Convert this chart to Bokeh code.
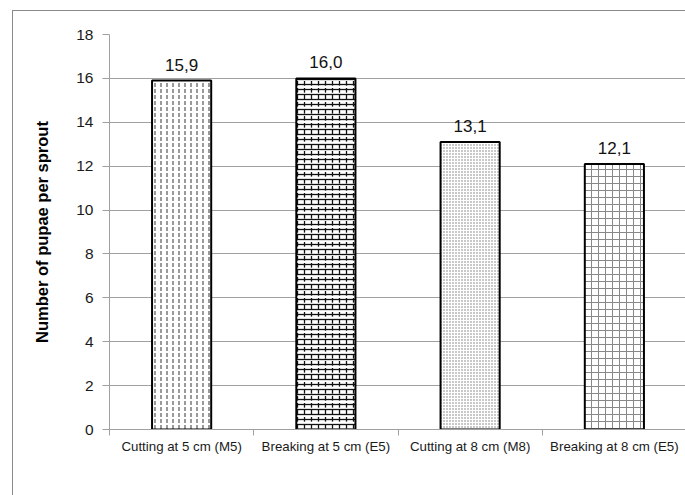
from bokeh.plotting import figure
from bokeh.models import Range1d, FixedTicker, ColumnDataSource
from bokeh.core.properties import value
from bokeh.embed import file_html
from bokeh.resources import INLINE

# Treatments and mean pupae counts per sprout
categories = ["Cutting at 5 cm (M5)", "Breaking at 5 cm (E5)",
              "Cutting at 8 cm (M8)", "Breaking at 8 cm (E5)"]
pupae = [15.9, 16.0, 13.1, 12.1]
y_ticks = [0, 2, 4, 6, 8, 10, 12, 14, 16, 18]

FONT = "Liberation Sans"
GRID = "#a0a0a0"

xs = [i + 0.5 for i in range(len(categories))]
labels = [f"{v:.1f}".replace(".", ",") for v in pupae]

p = figure(width=673, height=485, output_backend="svg", toolbar_location=None,
           x_range=Range1d(0, len(categories)), y_range=Range1d(0, 18),
           min_border_left=96, min_border_right=0, min_border_top=23,
           min_border_bottom=67)
p.styles = {"margin-left": "12px", "margin-top": "10px",
            "border-left": "1.5px solid #8a8a8a",
            "border-top": "1.5px solid #8a8a8a"}
p.outline_line_color = None
p.background_fill_color = "white"
p.border_fill_color = "white"

# Grid
p.xgrid.grid_line_color = None
p.ygrid.ticker = FixedTicker(ticks=y_ticks)
p.ygrid.grid_line_color = GRID
p.ygrid.grid_line_width = 1

# Y axis
p.yaxis.ticker = FixedTicker(ticks=y_ticks, minor_ticks=[])
p.yaxis.axis_line_color = GRID
p.yaxis.major_tick_line_color = GRID
p.yaxis.major_tick_out = 7
p.yaxis.major_tick_in = 0
p.yaxis.minor_tick_line_color = None
p.yaxis.major_label_text_font = FONT
p.yaxis.major_label_text_font_size = "15.5px"
p.yaxis.major_label_text_color = "#1a1a1a"
p.yaxis.major_label_standoff = 9
p.yaxis.axis_label = "Number of pupae per sprout"
p.yaxis.axis_label_text_font = FONT
p.yaxis.axis_label_text_font_style = "bold"
p.yaxis.axis_label_text_font_size = "16.5px"
p.yaxis.axis_label_text_color = "#000000"
p.yaxis.axis_label_standoff = 22

# X axis: labels at category centres, ticks at category boundaries
p.xaxis.ticker = FixedTicker(ticks=xs, minor_ticks=list(range(len(categories) + 1)))
p.xaxis.major_label_overrides = {x: c for x, c in zip(xs, categories)}
p.xaxis.axis_line_color = GRID
p.xaxis.major_tick_line_color = None
p.xaxis.minor_tick_line_color = GRID
p.xaxis.minor_tick_out = 6
p.xaxis.minor_tick_in = 0
p.xaxis.major_label_text_font = FONT
p.xaxis.major_label_text_font_size = "13.3px"
p.xaxis.major_label_text_color = "#1a1a1a"
p.xaxis.major_label_standoff = 3

# Bars, each with its own fill pattern
bar_w = 0.41
hatches = [
    [dict(hatch_pattern="vertical_dash", hatch_scale=6, hatch_weight=1.2, hatch_color="#555555")],
    [dict(hatch_pattern="horizontal_line", hatch_scale=5, hatch_weight=1.3, hatch_color="#111111"),
     dict(hatch_pattern="vertical_dash", hatch_scale=7, hatch_weight=1.3, hatch_color="#111111")],
    [dict(hatch_pattern="dot", hatch_scale=3, hatch_weight=1, hatch_color="#777777")],
    [dict(hatch_pattern="cross", hatch_scale=7, hatch_weight=1, hatch_color="#888888")],
]
for i, (x, v) in enumerate(zip(xs, pupae)):
    src = ColumnDataSource(dict(x=[x], top=[v]))
    p.vbar(x="x", top="top", width=bar_w, source=src, fill_color="white",
           line_color=None)
    for h in hatches[i]:
        p.vbar(x="x", top="top", width=bar_w, source=src, fill_alpha=0,
               line_color=None, **h)
    p.vbar(x="x", top="top", width=bar_w, source=src, fill_alpha=0,
           line_color="black", line_width=2)

# Value labels above the bars
lab_src = ColumnDataSource(dict(x=xs, y=pupae, t=labels))
p.text(x="x", y="y", text="t", source=lab_src, text_align="center",
       text_baseline="bottom", y_offset=-10, text_font=value(FONT),
       text_font_size="17px", text_color="#111111")

open("out.html", "w").write(file_html(p, INLINE))
